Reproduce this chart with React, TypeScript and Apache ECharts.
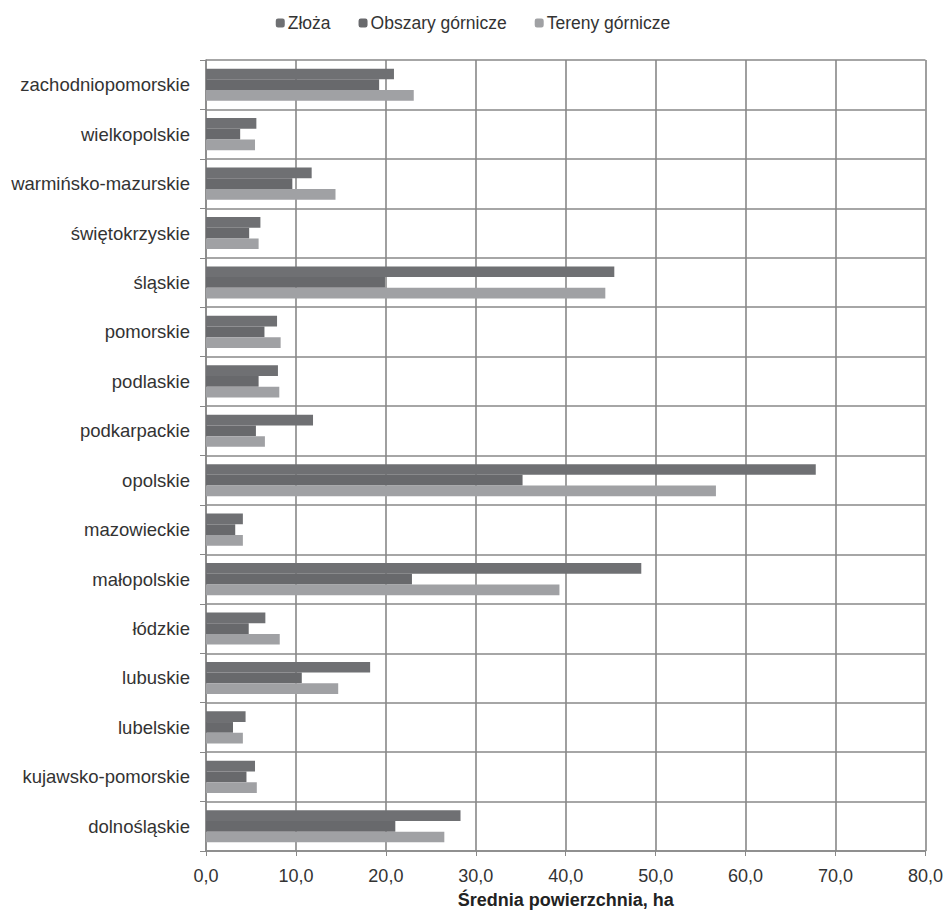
import React, { useEffect, useRef } from "react";
import * as echarts from "echarts";

const categories = [
  "zachodniopomorskie",
  "wielkopolskie",
  "warmińsko-mazurskie",
  "świętokrzyskie",
  "śląskie",
  "pomorskie",
  "podlaskie",
  "podkarpackie",
  "opolskie",
  "mazowieckie",
  "małopolskie",
  "łódzkie",
  "lubuskie",
  "lubelskie",
  "kujawsko-pomorskie",
  "dolnośląskie",
];

const zloza = [20.9, 5.6, 11.75, 6.05, 45.4, 7.9, 8.0, 11.9, 67.8, 4.1, 48.4, 6.6, 18.25, 4.4, 5.45, 28.3];
const obszary = [19.25, 3.8, 9.6, 4.8, 19.9, 6.5, 5.85, 5.55, 35.2, 3.25, 22.9, 4.75, 10.65, 3.0, 4.5, 21.05];
const tereny = [23.1, 5.45, 14.4, 5.85, 44.4, 8.3, 8.15, 6.55, 56.7, 4.1, 39.3, 8.2, 14.7, 4.1, 5.65, 26.5];

const seriesNames = ["Złoża", "Obszary górnicze", "Tereny górnicze"];
const xTicks = [0, 10, 20, 30, 40, 50, 60, 70, 80];

export default function App() {
  const ref = useRef<HTMLDivElement>(null);
  useEffect(() => {
    if (!ref.current) return;
    const chart = echarts.init(ref.current, null, { renderer: "svg" });
    const font = "Liberation Sans, Arial, sans-serif";
    chart.setOption({
      animation: false,
      textStyle: { fontFamily: font },
      legend: {
        data: seriesNames,
        top: 9,
        left: "center",
        itemWidth: 9,
        itemHeight: 9,
        itemGap: 28,
        textStyle: { fontSize: 17.5, color: "#333", fontFamily: font, padding: [0, 0, 0, -2] },
      },
      grid: { left: 206, right: 18, top: 60, bottom: 58, containLabel: false },
      xAxis: {
        type: "value",
        min: xTicks[0],
        max: xTicks[xTicks.length - 1],
        interval: 10,
        name: "Średnia powierzchnia, ha",
        nameLocation: "middle",
        nameGap: 40,
        nameTextStyle: { fontSize: 18, fontWeight: "bold", color: "#222", fontFamily: font },
        axisLine: { show: true, lineStyle: { color: "#888", width: 1.5 } },
        axisTick: { show: true, length: 5, lineStyle: { color: "#888" } },
        axisLabel: {
          fontSize: 18,
          color: "#333",
          margin: 16,
          formatter: (v: number) => v.toFixed(1).replace(".", ","),
        },
        splitLine: { show: true, lineStyle: { color: "#888", width: 1.6 } },
      },
      yAxis: {
        type: "category",
        data: categories,
        inverse: true,
        axisLine: { show: true, lineStyle: { color: "#888", width: 1.5 } },
        axisTick: { show: true, length: 6, lineStyle: { color: "#888" } },
        axisLabel: { fontSize: 18.5, color: "#333", margin: 16 },
        splitLine: { show: true, lineStyle: { color: "#888", width: 1.6 } },
      },
      series: [
        { name: seriesNames[0], type: "bar", data: zloza, barWidth: 10.7, barGap: "0%", itemStyle: { color: "#6f7073" } },
        { name: seriesNames[1], type: "bar", data: obszary, barWidth: 10.7, barGap: "0%", itemStyle: { color: "#68696c" } },
        { name: seriesNames[2], type: "bar", data: tereny, barWidth: 10.7, barGap: "0%", itemStyle: { color: "#a0a1a4" } },
      ],
    });
    return () => chart.dispose();
  }, []);
  return (
    <div
      ref={ref}
      style={{ position: "fixed", left: 0, top: 0, width: 946, height: 914, background: "#fff" }}
    />
  );
}
